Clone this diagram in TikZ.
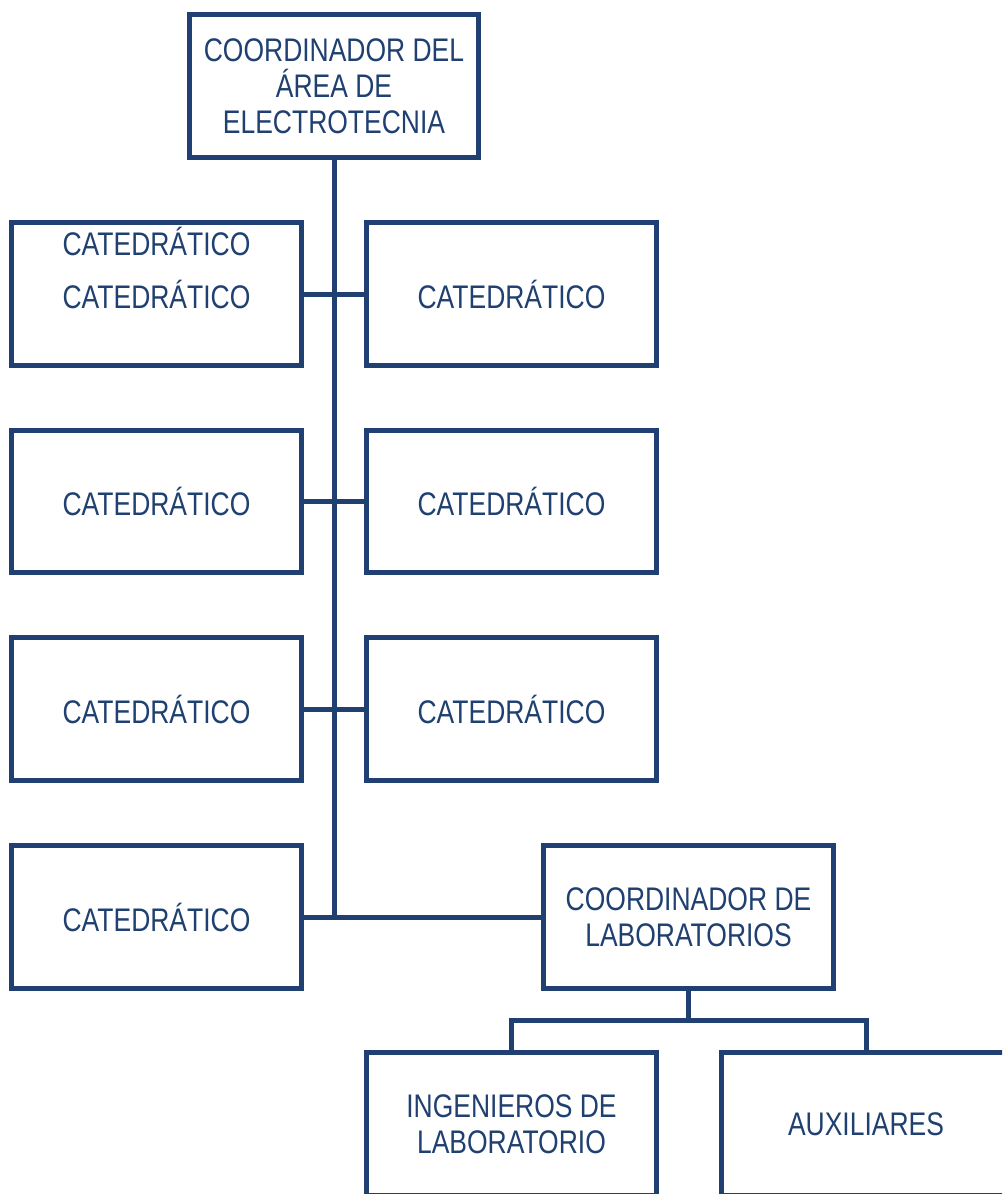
\documentclass[tikz,border=0pt]{standalone}
\usepackage{fontspec}
\setmainfont{Liberation Sans}[FakeStretch=0.81]
\usepackage{tikz}
\usetikzlibrary{positioning}
\definecolor{orgblue}{RGB}{31,64,112}

\tikzset{
  puesto/.style={draw=orgblue, line width=0.1cm, minimum width=5.8cm, minimum height=2.86cm,
    align=center, text=orgblue, font=\fontsize{18.6}{20.6}\selectfont, inner sep=0pt},
  linea/.style={draw=orgblue, line width=0.1cm}
}

\begin{document}
\begin{tikzpicture}[x=0.02cm, y=-0.02cm]
\clip (0,0) rectangle (1002,1194);
\fill[white] (0,0) rectangle (1002,1194);

\node[puesto] (coord) at (334,86) {COORDINADOR DEL\\ÁREA DE\\ELECTROTECNIA};

\node[puesto] (cat1) at (156.5,294) {CATEDRÁTICO};
\node[text=orgblue, font=\fontsize{18.6}{20.6}\selectfont] (cat1b) at (156.5,241) {CATEDRÁTICO};
\node[puesto] (cat2) at (511.5,294) {CATEDRÁTICO};
\node[puesto] (cat3) at (156.5,501.5) {CATEDRÁTICO};
\node[puesto] (cat4) at (511.5,501.5) {CATEDRÁTICO};
\node[puesto] (cat5) at (156.5,709) {CATEDRÁTICO};
\node[puesto] (cat6) at (511.5,709) {CATEDRÁTICO};
\node[puesto] (cat7) at (156.5,917) {CATEDRÁTICO};

\node[puesto] (lab) at (688.5,917) {COORDINADOR DE\\LABORATORIOS};
\node[puesto] (ing) at (511.5,1124) {INGENIEROS DE\\LABORATORIO};
\node[puesto] (aux) at (866,1124) {AUXILIARES};

% tronco
\draw[linea] (coord.south) -- (coord.south |- lab.west);
\draw[linea] (cat1.east) -- (cat2.west);
\draw[linea] (cat3.east) -- (cat4.west);
\draw[linea] (cat5.east) -- (cat6.west);
\draw[linea] (cat7.east) -- (lab.west);

% laboratorios
\coordinate (split) at (688.5,1020);
\draw[linea] (lab.south) -- (split);
\draw[linea] (ing.north) |- (split) -| (aux.north);
\end{tikzpicture}
\end{document}
